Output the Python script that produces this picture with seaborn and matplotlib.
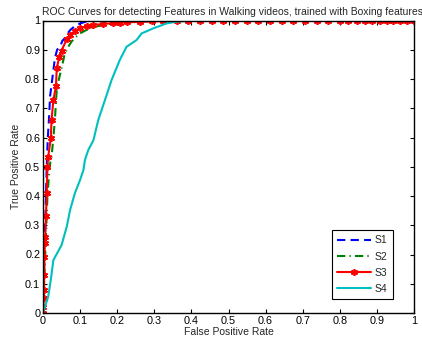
import matplotlib
matplotlib.use("Agg")
import matplotlib.pyplot as plt
import seaborn as sns
import pandas as pd

# ---- data ----
s1_fpr = [0, .002, .004, .006, .008, .010, .013, .016, .019, .024, .028, .032, .038, .046, .052, .059, .066, .073, .085, .10, .113, .127, .14, 1.0]
s1_tpr = [0, .10, .20, .30, .40, .50, .60, .66, .74, .79, .83, .87, .90, .91, .93, .94, .955, .967, .98, .99, .995, .998, 1.0, 1.0]

s2_fpr = [0, .003, .006, .009, .012, .016, .02, .023, .028, .032, .037, .043, .05, .059, .068, .077, .088, .10, .113, .127, .145, .163, .18, .20, .216, .25, .30, 1.0]
s2_tpr = [0, .10, .20, .30, .40, .47, .52, .534, .60, .66, .762, .80, .837, .888, .91, .928, .943, .956, .965, .973, .98, .985, .988, .991, .993, .996, 1.0, 1.0]

s3_fpr = [0, .001, .002, .003, .003, .004, .005, .006, .008, .010, .012, .014, .021, .023, .028, .035, .037, .044, .05, .064, .073, .086, .10, .118, .136, .162, .189, .208, .226, .261, .294, .323, .361, .391, .423, .456, .485, .518, .55, .58, .612, .644, .674, .706, .739, .768, .80, .822, .846, .868, .887, .908, .927, .943, .962, .98, 1.0]
s3_tpr = [0, .02, .05, .08, .13, .19, .24, .26, .33, .41, .50, .534, .597, .66, .728, .776, .837, .876, .897, .936, .95, .965, .973, .981, .985, .988, .991, .992, .994, .995, .997, .998, .999, 1, 1, 1, 1, 1, 1, 1, 1, 1, 1, 1, 1, 1, 1, 1, 1, 1, 1, 1, 1, 1, 1, 1, 1]

s4_fpr = [0, .014, .021, .028, .05, .064, .073, .086, .10, .109, .113, .122, .136, .149, .167, .185, .207, .225, .252, .266, .297, .333, .36, .40, 1.0]
s4_tpr = [0, .056, .113, .181, .232, .295, .352, .41, .455, .489, .523, .557, .591, .66, .728, .797, .865, .91, .933, .956, .973, .99, .996, 1.0, 1.0]

labels = ["S1", "S2", "S3", "S4"]
title = "ROC Curves for detecting Features in Walking videos, trained with Boxing features"
xlabel = "False Positive Rate"
ylabel = "True Positive Rate"
ticks = [0, 0.1, 0.2, 0.3, 0.4, 0.5, 0.6, 0.7, 0.8, 0.9, 1]
tick_labels = ["0", "0.1", "0.2", "0.3", "0.4", "0.5", "0.6", "0.7", "0.8", "0.9", "1"]

sns.set_theme(style="white")
plt.rcParams['font.family'] = ['Liberation Sans', 'DejaVu Sans']

fig = plt.figure(figsize=(4.22, 3.43), dpi=100)
ax = fig.add_axes([43/422, 30/343, 371/422, 292.5/343])

series = [(s1_fpr, s1_tpr), (s2_fpr, s2_tpr), (s3_fpr, s3_tpr), (s4_fpr, s4_tpr)]
colors = [(0, 0, 1), (0, 0.5, 0), (1, 0, 0), (0, 0.75, 0.75)]
dashes = [(0, (4, 2.5)), (0, (4, 2, 0.6, 2)), '-', '-']
markers = [None, None, (6, 2, 0), None]

for (x, y), lab, c in zip(series, labels, colors):
    df = pd.DataFrame({"fpr": x, "tpr": y})
    sns.lineplot(data=df, x="fpr", y="tpr", ax=ax, sort=False, estimator=None,
                 label=lab, color=c, lw=1.5)

for line, ls, mk in zip(ax.lines, dashes, markers):
    line.set_linestyle(ls)
    line.set_linewidth(1.5)
    if mk is not None:
        line.set_marker(mk)
        line.set_markersize(5)
        line.set_markeredgewidth(1.2)
        line.set_markeredgecolor(line.get_color())

ax.set_xlim(0, 1)
ax.set_ylim(0, 1)
ax.set_xticks(ticks)
ax.set_xticklabels(tick_labels)
ax.set_yticks(ticks)
ax.set_yticklabels(tick_labels)
ax.tick_params(direction='in', length=3, width=0.8, labelsize=7.8, colors='black',
               top=True, right=True, bottom=True, left=True, pad=2)
for sp in ax.spines.values():
    sp.set_color('black')
    sp.set_linewidth(1.0)
ax.set_xlabel(xlabel, fontsize=7.5, labelpad=1)
ax.set_ylabel(ylabel, fontsize=7.5, labelpad=3)
ax.set_title(title, fontsize=7.5, pad=4, x=0.51)

leg = ax.legend(loc='lower right', bbox_to_anchor=(0.943, 0.047), borderaxespad=0,
                fontsize=7.5, frameon=True, fancybox=False, edgecolor='black',
                framealpha=1, handlelength=3.2, labelspacing=0.6, borderpad=0.5,
                handletextpad=0.4)
leg.get_frame().set_linewidth(0.8)
for h, ls, mk in zip(leg.get_lines(), dashes, markers):
    h.set_linestyle(ls)
    h.set_linewidth(1.5)
    if mk is not None:
        h.set_marker(mk)
        h.set_markersize(5)
        h.set_markeredgewidth(1.2)
        h.set_markeredgecolor(h.get_color())

fig.savefig("out.png", dpi=100)
